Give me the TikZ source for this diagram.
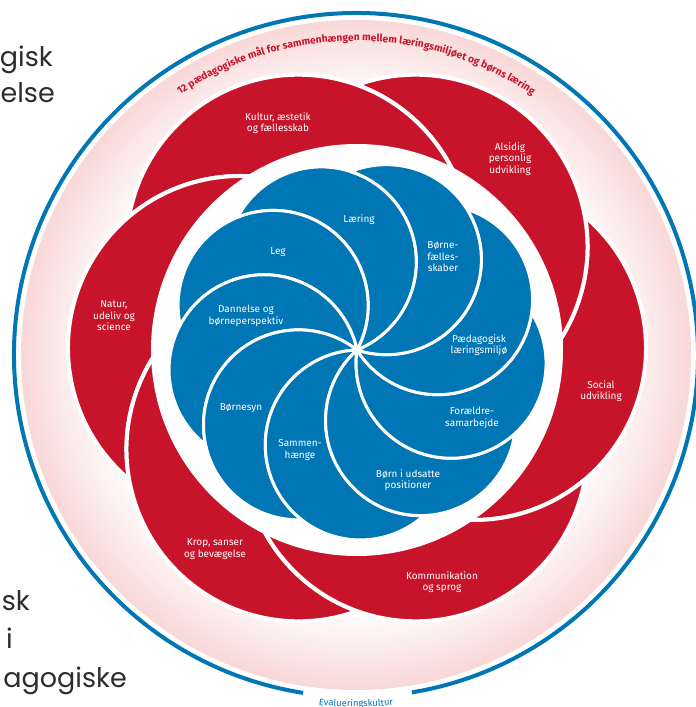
\documentclass[tikz,border=0pt]{standalone}
\usepackage{fontspec}
\setmainfont{Fira Sans}
\newfontfamily\headfont{Poppins}
\usetikzlibrary{decorations.text}

\definecolor{petalred}{RGB}{200,20,42}
\definecolor{petalblue}{RGB}{0,118,180}
\definecolor{ringpink}{RGB}{249,216,216}
\definecolor{bodygray}{RGB}{45,45,45}

\tikzset{
  petal/.style={draw=white,line join=round},
  petaltext/.style={text=white,align=center,inner sep=0pt,font=\fontsize{10}{11.5}\selectfont},
  bodytext/.style={text=bodygray,inner sep=0pt,font=\headfont\fontsize{27}{27}\selectfont}
}

\begin{document}
\begin{tikzpicture}[x=1pt,y=1pt]
\useasboundingbox (-357,-357) rectangle (339,350);
\coordinate (bc) at (0,0);
\coordinate (rc) at (0,2);
\coordinate (oc) at (-1,-5);

\foreach \k in {0,...,40}
  \fill[ringpink!\the\numexpr100-\k*100/40\relax!white] (oc) circle[radius=335-2*\k];
\draw[petalblue,line width=4] ([shift={(oc)}]279.4:342) arc[start angle=279.4,end angle=621.1,radius=342];

\foreach \a in {0,60,...,300}
  \filldraw[petal,fill=petalred,line width=4] ([shift={(rc)}]\a+210:60.42) arc[start angle=\a-169.88,end angle=\a+49.88,radius=172] arc[start angle=\a+10.12,end angle=\a-130.12,radius=172] -- cycle;

\fill[white] (bc) circle[radius=206];

\foreach \a in {112,152,...,432}
  \filldraw[petal,fill=petalblue,line width=3] (bc) arc[start angle=\a-180,end angle=\a+40,radius=95] arc[start angle=\a,end angle=\a-140,radius=95] -- cycle;

\foreach \nm/\x/\y/\txt in {kultur/-79/227/{Kultur, æstetik\\og fællesskab},
    alsidig/153/191/{Alsidig\\personlig\\udvikling},
    social/244/-41/{Social\\udvikling},
    kommunikation/85/-232/{Kommunikation\\og sprog},
    krop/-142/-199/{Krop, sanser\\og bevægelse},
    natur/-243/34/{Natur,\\udeliv og\\science}}
  \node[petaltext] (\nm) at (\x,\y) {\txt};

\foreach \nm/\x/\y/\txt in {laering/2/130/{Læring},
    leg/-79/98/{Leg},
    dannelse/-111/34/{Dannelse og\\børneperspektiv},
    boernesyn/-116/-58/{Børnesyn},
    sammen/-57/-100/{Sammen-\\hænge},
    udsatte/51/-130/{Børn i udsatte\\positioner},
    foraeldre/115/-68/{Forældre-\\samarbejde},
    paedagogisk/122/5/{Pædagogisk\\læringsmiljø},
    faelles/86/93/{Børne-\\fælles-\\skaber}}
  \node[petaltext] (\nm) at (\x,\y) {\txt};

\path[decorate,decoration={text along path,text align=center,
    text={|\color{petalred}\bfseries\fontsize{10.2}{10}\selectfont|12 pædagogiske mål for sammenhængen mellem læringsmiljøet og børns læring}}]
  ([shift={(oc)}]150:314) arc[start angle=150,end angle=30,radius=314];
\path[decorate,decoration={text along path,text align=center,
    text={|\color{petalblue}\fontsize{9.4}{9}\selectfont|Evalueringskultur}}]
  ([shift={(oc)}]255:352) arc[start angle=255,end angle=285,radius=352];

\node[bodytext,anchor=base east] (gisk) at (-304,283) {gisk};
\node[bodytext,anchor=base east] (else) at (-302,247) {else};
\node[bodytext,anchor=base east] (sk) at (-327,-260) {sk};
\node[bodytext,anchor=base west] (i) at (-351,-298) {i};
\node[bodytext,anchor=base east] (agogiske) at (-230,-337) {agogiske};
\end{tikzpicture}
\end{document}
